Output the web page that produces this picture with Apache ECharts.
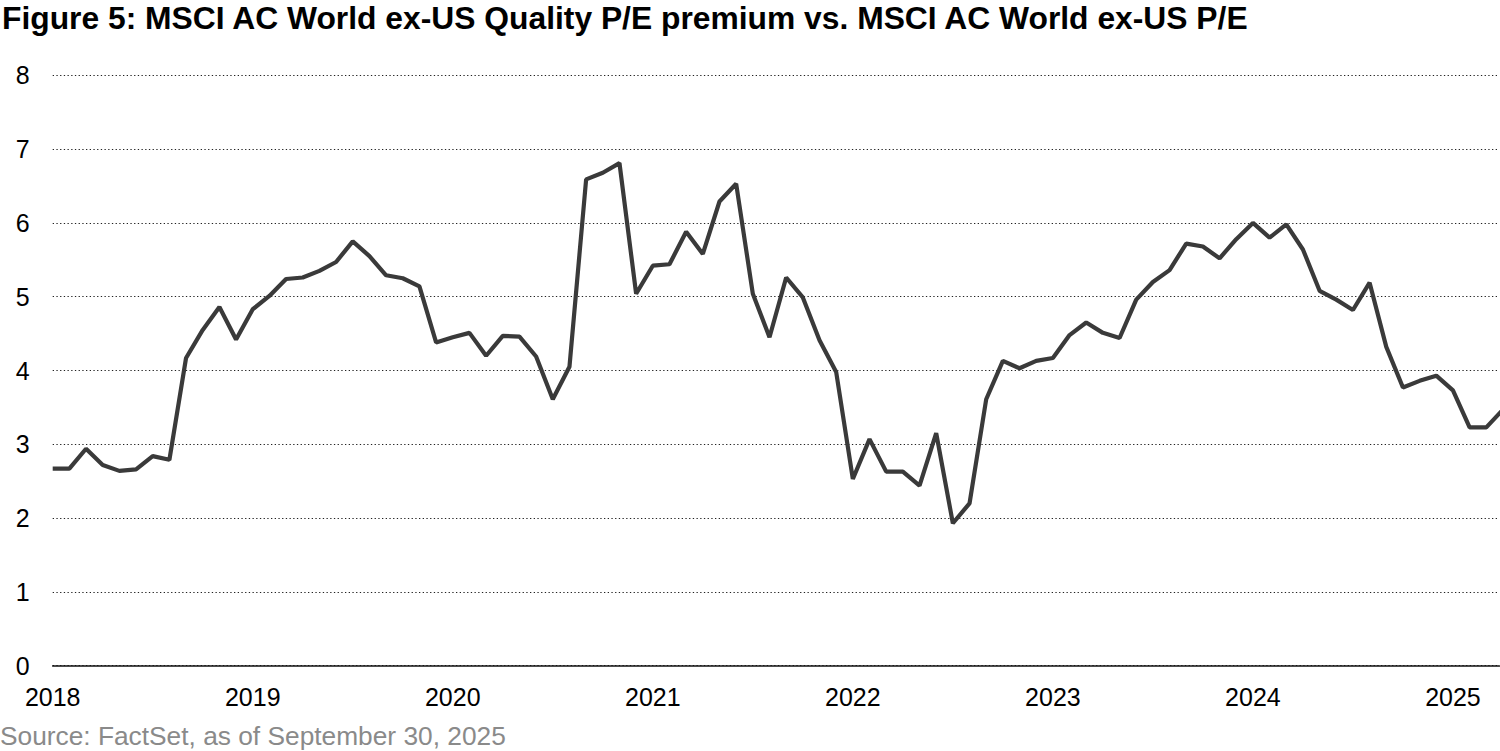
<!DOCTYPE html>
<html>
<head>
<meta charset="utf-8">
<style>
html,body{margin:0;padding:0;background:#fff;}
#chart{width:1500px;height:751px;}
</style>
<script src="https://cdn.jsdelivr.net/npm/echarts@6/dist/echarts.min.js"></script>
</head>
<body>
<div id="chart"></div>
<script>
// Monthly observations, Jan 2018 onward
const startYear = 2018;
const months = [];
for (let i = 0; i < 88; i++) {
  const y = startYear + Math.floor(i / 12);
  const m = (i % 12) + 1;
  months.push(y + '-' + (m < 10 ? '0' + m : m));
}
const premium = [
  2.67, 2.67, 2.94, 2.72, 2.64, 2.66, 2.84, 2.79, 4.17, 4.55, 4.86, 4.42,
  4.83, 5.01, 5.24, 5.26, 5.35, 5.47, 5.75, 5.55, 5.29, 5.25, 5.14, 4.38,
  4.45, 4.51, 4.20, 4.47, 4.46, 4.19, 3.61, 4.05, 6.59, 6.68, 6.81, 5.04,
  5.42, 5.44, 5.88, 5.58, 6.29, 6.53, 5.04, 4.45, 5.26, 4.99, 4.41, 3.98,
  2.53, 3.07, 2.63, 2.63, 2.44, 3.15, 1.93, 2.20, 3.61, 4.13, 4.03, 4.13,
  4.17, 4.48, 4.65, 4.51, 4.44, 4.96, 5.20, 5.36, 5.72, 5.68, 5.52, 5.78,
  6.00, 5.80, 5.98, 5.64, 5.08, 4.96, 4.82, 5.19, 4.32, 3.77, 3.86, 3.93,
  3.73, 3.23, 3.23, 3.47
];
const yearLabels = ['2018','2019','2020','2021','2022','2023','2024','2025'];
const yTicks = ['0','1','2','3','4','5','6','7','8'];

const titleText = 'Figure 5: MSCI AC World ex-US Quality P/E premium vs. MSCI AC World ex-US P/E';
const sourceText = 'Source: FactSet, as of September 30, 2025';

const seriesData = premium.map((v, i) => [i, v]);
const FONT = '"Liberation Sans", Arial, sans-serif';

const chart = echarts.init(document.getElementById('chart'), null, {renderer: 'svg'});
chart.setOption({
  animation: false,
  backgroundColor: '#fff',
  title: [
    {text: titleText, left: 2, top: 2, padding: 0,
     textStyle: {fontFamily: FONT, fontSize: 31.8, fontWeight: 'bold', color: '#000'}},
    {text: sourceText, left: 0, top: 723, padding: 0,
     textStyle: {fontFamily: FONT, fontSize: 26.3, fontWeight: 'normal', color: '#8a8a8a'}}
  ],
  grid: {left: 52.7, right: 0.7, top: 75.3, bottom: 85.3},
  xAxis: {
    type: 'value',
    min: 0,
    max: 86.78,
    interval: 12,
    axisLine: {show: true, onZero: true, lineStyle: {color: '#111', width: 1.6}},
    axisTick: {show: false},
    splitLine: {show: false},
    axisLabel: {
      fontFamily: FONT, fontSize: 25, color: '#000', margin: 19,
      showMaxLabel: false,
      formatter: function (v) {
        if (v % 12 !== 0) return '';
        return yearLabels[v / 12] || '';
      }
    }
  },
  yAxis: {
    type: 'value',
    min: 0,
    max: 8,
    interval: 1,
    axisLine: {show: false},
    axisTick: {show: false},
    axisLabel: {
      fontFamily: FONT, fontSize: 25, color: '#000', margin: 23,
      formatter: function (v) { return yTicks[v]; }
    },
    splitLine: {show: true, lineStyle: {color: '#222', width: 1.2, type: [1.3, 2.4]}}
  },
  series: [{
    type: 'line',
    data: seriesData,
    symbol: 'none',
    clip: true,
    lineStyle: {color: '#3a3a3a', width: 4.2},
    z: 3
  }]
});
</script>
</body>
</html>
